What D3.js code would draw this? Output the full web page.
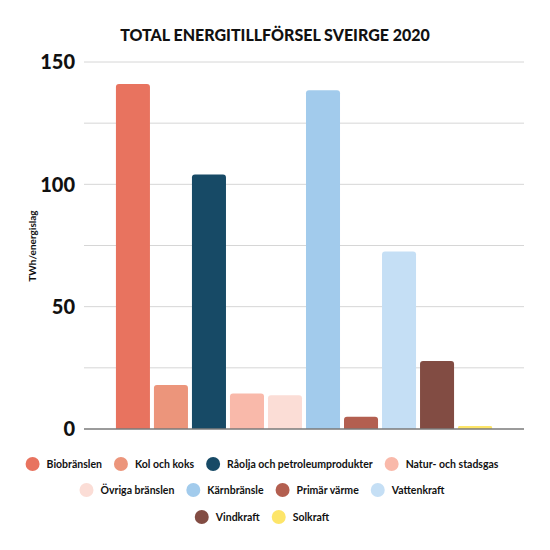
<!DOCTYPE html>
<meta charset="utf-8">
<script src="https://d3js.org/d3.v7.min.js"></script>
<style>
  body { margin: 0; background: #fff; }
  text { font-family: Lato, "Open Sans", sans-serif; fill: #111; }
</style>
<div id="my_dataviz"></div>
<script>

// data (TWh)
var categories = ["Biobränslen", "Kol och koks", "Råolja och petroleumprodukter", "Natur- och stadsgas",
                  "Övriga bränslen", "Kärnbränsle", "Primär värme", "Vattenkraft", "Vindkraft", "Solkraft"];
var values = [141, 18, 104, 14.5, 13.8, 138.5, 5, 72.5, 27.8, 1.2];
var colors = ["#e8735f", "#ec957b", "#174a66", "#f9b9aa", "#fbddd6",
              "#a2cbec", "#b35f50", "#c5dff5", "#824c43", "#fde569"];
var yTicks = [0, 50, 100, 150];
var yGrid = [0, 25, 50, 75, 100, 125, 150];

var W = 550, H = 550;
var margin = {top: 62, right: 26, bottom: 121, left: 84},
    width = W - margin.left - margin.right,
    height = H - margin.top - margin.bottom;

var svg = d3.select("#my_dataviz")
  .append("svg")
    .attr("width", W)
    .attr("height", H);

var g = svg.append("g")
    .attr("transform", "translate(" + margin.left + "," + margin.top + ")");

// title
svg.append("text")
    .attr("x", 275)
    .attr("y", 41)
    .attr("text-anchor", "middle")
    .style("font-size", "16px")
    .style("font-weight", 900)
    .text("TOTAL ENERGITILLFÖRSEL SVEIRGE 2020");

var x = d3.scaleBand()
  .range([0, width])
  .domain(categories)
  .paddingInner(0.105)
  .paddingOuter(0.84);

var y = d3.scaleLinear()
  .domain([0, 150])
  .range([height, 0]);

// grid
g.selectAll(".grid")
  .data(yGrid.filter(function(d) { return d > 0; }))
  .enter()
  .append("line")
    .attr("x1", 0)
    .attr("x2", width)
    .attr("y1", function(d) { return y(d); })
    .attr("y2", function(d) { return y(d); })
    .attr("stroke", "#d6d6d6")
    .attr("stroke-width", 1);

// y tick labels
g.selectAll(".ytick")
  .data(yTicks)
  .enter()
  .append("text")
    .attr("x", -9)
    .attr("y", function(d) { return y(d); })
    .attr("dy", "0.36em")
    .attr("text-anchor", "end")
    .style("font-size", "20px")
    .style("font-weight", 900)
    .text(function(d) { return d; });

// bars with rounded tops
function barPath(d, i) {
  var x0 = x(categories[i]), w = x.bandwidth();
  var y0 = y(d), yb = y(0);
  var r = Math.min(3, (yb - y0) / 2);
  return "M" + x0 + "," + yb +
    "L" + x0 + "," + (y0 + r) +
    "Q" + x0 + "," + y0 + " " + (x0 + r) + "," + y0 +
    "L" + (x0 + w - r) + "," + y0 +
    "Q" + (x0 + w) + "," + y0 + " " + (x0 + w) + "," + (y0 + r) +
    "L" + (x0 + w) + "," + yb + "Z";
}

g.selectAll("mybar")
  .data(values)
  .enter()
  .append("path")
    .attr("d", barPath)
    .attr("fill", function(d, i) { return colors[i]; });

// zero line
g.append("line")
    .attr("x1", 0)
    .attr("x2", width)
    .attr("y1", y(0))
    .attr("y2", y(0))
    .attr("stroke", "#7a7a7a")
    .attr("stroke-width", 1.5);

// y axis label
svg.append("text")
    .attr("transform", "translate(36," + 246 + ") rotate(-90)")
    .attr("text-anchor", "middle")
    .style("font-size", "10px")
    .style("font-weight", 700)
    .text("TWh/energislag");

// legend: 4 + 4 + 2 items, each row centred
var legend = svg.append("g");
var items = categories.map(function(c, i) {
  var it = legend.append("g");
  it.append("circle").attr("r", 7).attr("cx", 7).attr("fill", colors[i]);
  var t = it.append("text")
      .attr("x", 21)
      .attr("dy", "0.36em")
      .style("font-size", "10.5px")
      .style("font-weight", 700)
      .text(c);
  return {g: it, w: 21 + t.node().getComputedTextLength()};
});

var gap = 12, rowsY = [464, 490, 517];
var rows = [items.slice(0, 4), items.slice(4, 8), items.slice(8)];
rows.forEach(function(row, r) {
  var tot = d3.sum(row, function(d) { return d.w; }) + gap * (row.length - 1);
  var xx = 262 - tot / 2;
  row.forEach(function(it) {
    it.g.attr("transform", "translate(" + xx + "," + rowsY[r] + ")");
    xx += it.w + gap;
  });
});

</script>
